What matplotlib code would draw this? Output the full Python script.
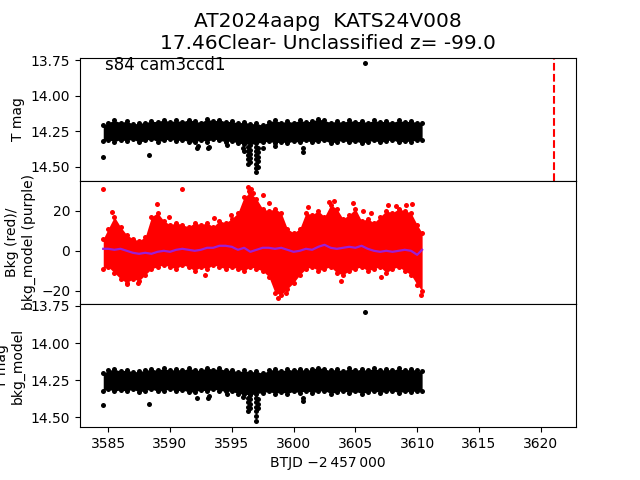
import matplotlib
matplotlib.use("Agg")
import matplotlib.pyplot as plt

# sample times (BTJD - 2457000) of the band envelopes
TIME = [3584.6, 3585.0, 3585.5, 3586.0, 3586.5, 3587.0, 3587.5, 3588.0, 3588.5, 3589.0,
        3589.5, 3590.0, 3590.5, 3591.0, 3591.5, 3592.0, 3592.5, 3593.0, 3593.5, 3594.0,
        3594.5, 3595.0, 3595.5, 3596.0, 3596.5, 3597.0, 3597.5, 3598.0, 3598.5, 3599.0,
        3599.5, 3600.0, 3600.5, 3601.0, 3601.5, 3602.0, 3602.5, 3603.0, 3603.5, 3604.0,
        3604.5, 3605.0, 3605.5, 3606.0, 3606.5, 3607.0, 3607.5, 3608.0, 3608.5, 3609.0,
        3609.5, 3610.0, 3610.4]

# T mag: bright / faint edge of the band
MAG_TOP = [14.21, 14.19, 14.175, 14.19, 14.18, 14.2, 14.195, 14.19, 14.18, 14.185,
           14.17, 14.185, 14.175, 14.185, 14.17, 14.18, 14.19, 14.165, 14.18, 14.17,
           14.185, 14.18, 14.195, 14.185, 14.2, 14.195, 14.21, 14.185, 14.175, 14.19,
           14.18, 14.19, 14.175, 14.185, 14.18, 14.165, 14.175, 14.19, 14.18, 14.19,
           14.175, 14.185, 14.18, 14.19, 14.175, 14.185, 14.18, 14.19, 14.175, 14.185,
           14.18, 14.19, 14.195]
MAG_BOT = [14.32, 14.31, 14.325, 14.31, 14.32, 14.305, 14.33, 14.315, 14.305, 14.325,
           14.315, 14.305, 14.32, 14.31, 14.325, 14.33, 14.31, 14.325, 14.305, 14.315,
           14.325, 14.32, 14.335, 14.34, 14.345, 14.335, 14.33, 14.32, 14.335, 14.325,
           14.335, 14.32, 14.33, 14.315, 14.33, 14.32, 14.315, 14.335, 14.325, 14.315,
           14.33, 14.32, 14.335, 14.325, 14.315, 14.33, 14.32, 14.31, 14.33, 14.32,
           14.325, 14.31, 14.31]
# T mag points outside the band
MAG_OUT_T = [3584.6, 3588.27, 3592.2, 3592.25, 3593.1, 3593.15, 3594.6, 3595.9, 3596.0,
             3596.3, 3596.3, 3596.3, 3596.3, 3596.3, 3596.45, 3596.45, 3596.45, 3596.45,
             3596.95, 3596.95, 3596.95, 3596.95, 3596.95, 3596.95, 3596.95,
             3597.1, 3597.1, 3597.1, 3597.1, 3597.1, 3597.5, 3598.5, 3600.8, 3600.8, 3605.77]
MAG_OUT = [14.43, 14.42, 14.37, 14.355, 14.37, 14.36, 14.345, 14.37, 14.39,
           14.36, 14.39, 14.42, 14.45, 14.48, 14.38, 14.41, 14.44, 14.47,
           14.36, 14.39, 14.42, 14.45, 14.48, 14.51, 14.54,
           14.37, 14.40, 14.43, 14.46, 14.50, 14.37, 14.355, 14.395, 14.37, 13.773]

# background flux: upper / lower edge of the red band, model (purple)
BKG_TOP = [6, 11, 17, 12, 8, 6, 5, 7, 17, 19,
           15, 13, 14, 13, 12, 14, 13, 14, 12, 15,
           14, 16, 19, 27, 29, 26, 21, 20, 21, 19,
           11, 9, 11, 19, 18, 20, 17, 23, 21, 16,
           18, 21, 15, 16, 14, 17, 20, 19, 21, 20,
           19, 13, 9]
BKG_BOT = [-9, -8, -11, -14, -16, -14, -15, -12, -9, -8,
           -7, -8, -9, -7, -8, -10, -8, -9, -7, -8,
           -9, -8, -9, -10, -8, -9, -10, -13, -21, -22,
           -19, -16, -12, -9, -8, -10, -9, -8, -11, -12,
           -10, -9, -8, -10, -9, -8, -11, -9, -8, -10,
           -12, -17, -20]
BKG_MODEL = [1, 1, 0.5, 1, 0, -1, -1.5, -1, -1.5, -0.5,
             0, -0.5, 0.5, 1, 0.5, 0, 0.5, 1.5, 1.5, 2.5,
             2.5, 2, 0.5, 1.5, -0.5, 0.5, 1.5, 1.5, 1, 1.5,
             0.5, -0.5, 0, 1, 0.5, 2, 3, 1.5, 1, 1.5,
             2, 1.5, 2.5, 1, 0, -0.5, 0, -0.5, 0, 0.5,
             0, -2, 0.5]
BKG_OUT_T = [3584.6, 3591.0, 3588.95, 3597.5, 3609.6, 3596.3, 3596.4, 3596.55, 3596.7,
             3604.8, 3598.7, 3586.5, 3587.4, 3592.8, 3610.3, 3585.3,
             3589.9, 3593.6, 3594.9, 3598.0, 3601.2, 3602.9, 3603.3, 3605.6, 3606.3,
             3607.6, 3608.3, 3609.1, 3599.4, 3603.8, 3607.1]
BKG_OUT = [30.7, 30.7, 23.5, 28, 23.5, 32, 30, 31, 29,
           24, -23.5, -16.7, -16, -12, -22, 19.5,
           17, 16.5, 18, 24, 22, 24.5, 25, 20, 19,
           23, 22.5, 23, -21, -15, -13]

# T mag - bkg_model
DIF_TOP = [14.205, 14.185, 14.175, 14.19, 14.18, 14.195, 14.19, 14.185, 14.175, 14.185,
           14.17, 14.185, 14.175, 14.185, 14.17, 14.18, 14.185, 14.165, 14.18, 14.17,
           14.185, 14.18, 14.195, 14.185, 14.195, 14.19, 14.205, 14.185, 14.175, 14.19,
           14.175, 14.185, 14.175, 14.185, 14.175, 14.165, 14.175, 14.185, 14.175, 14.19,
           14.17, 14.185, 14.175, 14.185, 14.17, 14.185, 14.175, 14.185, 14.17, 14.185,
           14.175, 14.185, 14.19]
DIF_BOT = [14.32, 14.31, 14.325, 14.315, 14.325, 14.31, 14.33, 14.32, 14.31, 14.325,
           14.32, 14.31, 14.325, 14.315, 14.33, 14.33, 14.315, 14.325, 14.31, 14.32,
           14.325, 14.325, 14.34, 14.345, 14.35, 14.34, 14.335, 14.325, 14.34, 14.33,
           14.34, 14.325, 14.335, 14.32, 14.335, 14.325, 14.32, 14.34, 14.33, 14.32,
           14.335, 14.325, 14.34, 14.33, 14.32, 14.335, 14.325, 14.32, 14.335, 14.325,
           14.33, 14.32, 14.32]
DIF_OUT_T = [3584.6, 3588.27, 3592.2, 3593.1, 3593.15, 3594.6, 3595.9,
             3596.35, 3596.35, 3596.35, 3596.35, 3596.5, 3596.5, 3596.5,
             3597.0, 3597.0, 3597.0, 3597.0, 3597.0, 3597.0,
             3597.15, 3597.15, 3597.15, 3600.8, 3600.8, 3605.77]
DIF_OUT = [14.415, 14.41, 14.37, 14.37, 14.36, 14.34, 14.365,
           14.37, 14.40, 14.43, 14.46, 14.38, 14.41, 14.44,
           14.37, 14.40, 14.43, 14.46, 14.49, 14.525,
           14.38, 14.41, 14.44, 14.39, 14.37, 13.788]

PEAK_TIME = 3621.04

MS = 3.6

fig, (ax1, ax2, ax3) = plt.subplots(3, 1, sharex=True, figsize=(6.4, 4.8))
fig.subplots_adjust(hspace=0)

def band(ax, t, lo, hi, color):
    ax.fill_between(t, lo, hi, color=color, lw=0)
    ax.plot(t, lo, "o", color=color, ms=MS, mew=0)
    ax.plot(t, hi, "o", color=color, ms=MS, mew=0)

# top: T mag
band(ax1, TIME, MAG_BOT, MAG_TOP, "k")
ax1.plot(MAG_OUT_T, MAG_OUT, "o", color="k", ms=MS, mew=0)
ax1.axvline(PEAK_TIME, color="r", ls="--", lw=1.5)
ax1.set_ylim(14.60, 13.733)
ax1.set_ylabel("T mag")
ax1.text(0.05, 0.94, "s84 cam3ccd1", transform=ax1.transAxes, ha="left", va="center",
         fontsize=12)
ax1.set_title("AT2024aapg  KATS24V008\n17.46Clear- Unclassified z= -99.0", fontsize=14.5)

# middle: background
band(ax2, TIME, BKG_BOT, BKG_TOP, "r")
ax2.plot(BKG_OUT_T, BKG_OUT, "o", color="r", ms=MS, mew=0)
ax2.plot(TIME, BKG_MODEL, color="#9a1fd6", lw=1.6)
ax2.set_ylim(-26.6, 35.0)
ax2.set_ylabel("Bkg (red)/\nbkg_model (purple)")

# bottom: T mag - bkg_model
band(ax3, TIME, DIF_BOT, DIF_TOP, "k")
ax3.plot(DIF_OUT_T, DIF_OUT, "o", color="k", ms=MS, mew=0)
ax3.set_ylim(14.567, 13.737)
ax3.set_ylabel("T mag\nbkg_model")
ax3.set_xlim(3582.72, 3622.85)
ax3.set_xlabel("BTJD \u22122\u2009457\u2009000")

fig.savefig("out.png", dpi=100)
